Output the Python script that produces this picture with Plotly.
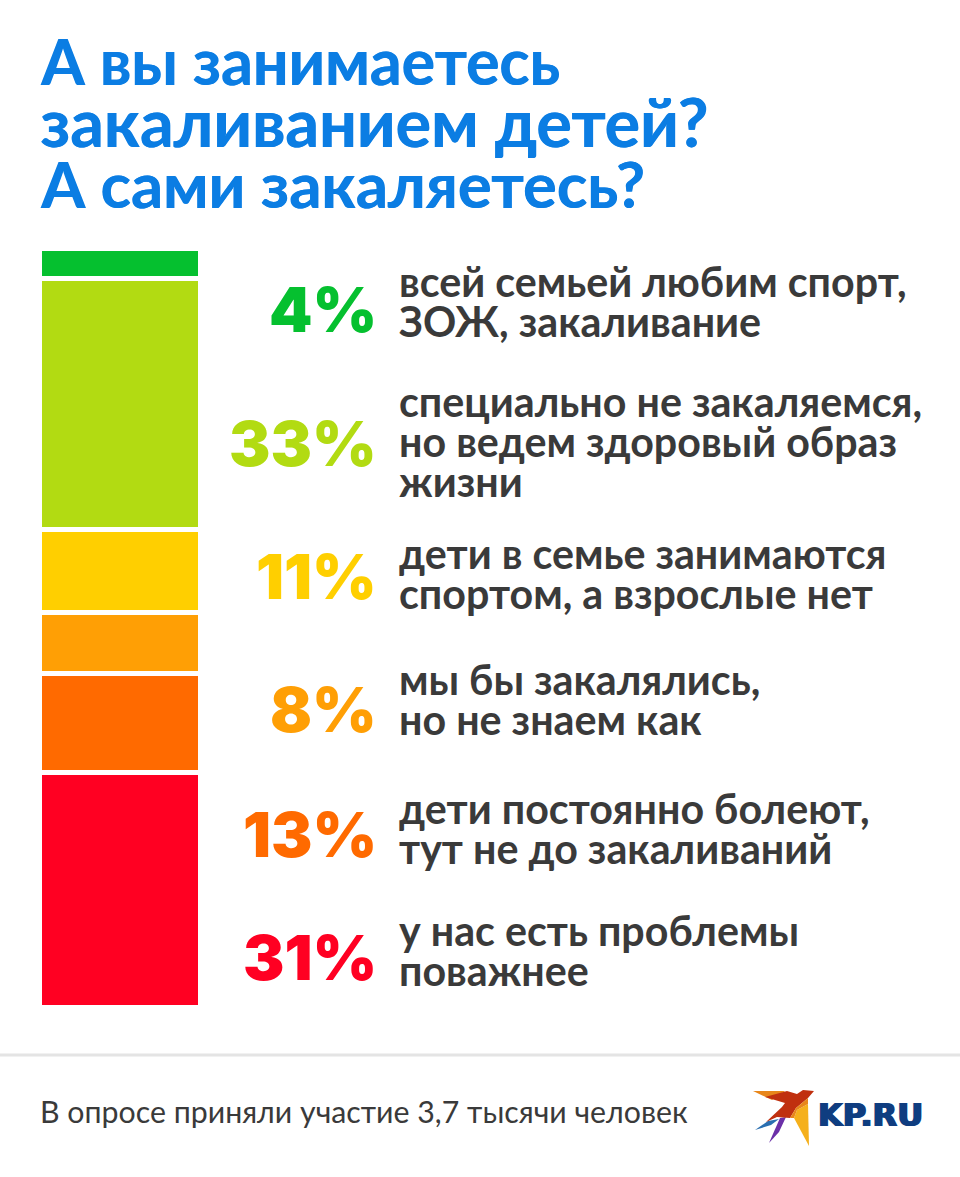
import plotly.graph_objs as go

W = 960
H = 1177

title_lines = ['А вы занимаетесь', 'закаливанием детей?', 'А сами закаляетесь?']
categories = ['всей семьей любим спорт, ЗОЖ, закаливание',
              'специально не закаляемся, но ведем здоровый образ жизни',
              'дети в семье занимаются спортом, а взрослые нет',
              'мы бы закалялись, но не знаем как',
              'дети постоянно болеют, тут не до закаливаний',
              'у нас есть проблемы поважнее']
values = [4, 33, 11, 8, 13, 31]
label_lines = [['всей семьей любим спорт,', 'ЗОЖ, закаливание'],
               ['специально не закаляемся,', 'но ведем здоровый образ', 'жизни'],
               ['дети в семье занимаются', 'спортом, а взрослые нет'],
               ['мы бы закалялись,', 'но не знаем как'],
               ['дети постоянно болеют,', 'тут не до закаливаний'],
               ['у нас есть проблемы', 'поважнее']]
footer = 'В опросе приняли участие 3,7 тысячи человек'
logo_text = 'KP.RU'

colors = ['#05c02f', '#b2db12', '#ffcf00', '#ff9f05', '#ff6a00', '#ff0022']

# lines of the title do not share a width in the original, so each gets its own size
title_sizes = [62.6, 66.4, 63.3]
title_y = [60, 120.5, 183.5]
# first text line centre of every block, px from the top
label_tops = [281, 401, 553, 679, 808, 930]
percent_y = [309, 444, 576, 709, 834, 957]


def px(x):
    return x / W


def py(y):
    return 1 - y / H


def text(x, y, s, size, color, family='Lato', weight=700, anchor='left', shadow='none'):
    return dict(x=px(x), y=py(y), xref='paper', yref='paper', text=s, showarrow=False,
                xanchor=anchor, yanchor='middle', borderpad=0,
                font=dict(family=family, size=size, color=color, weight=weight, shadow=shadow))


def poly(points, color):
    path = 'M ' + ' L '.join(f'{px(a):.5f} {py(b):.5f}' for a, b in points) + ' Z'
    return dict(type='path', path=path, xref='paper', yref='paper', fillcolor=color,
                line=dict(width=0), layer='above')


#bars, stacked from the top down
data = []
for i in range(len(values)):
    data.append(go.Bar(x=['опрос'], y=[values[i]], name=categories[i], marker_color=colors[i],
                       marker_line=dict(color='white', width=5), showlegend=False))

annotations = []

#title
for i, line in enumerate(title_lines):
    annotations.append(text(39, title_y[i], line, title_sizes[i], '#0b7de3',
                            shadow='0.7px 0 0 #0b7de3'))

#percents and labels
for i in range(len(values)):
    annotations.append(text(378, percent_y[i], f'{values[i]}%', 62, colors[i],
                            family='Inter', weight=900, anchor='right'))
    for j, line in enumerate(label_lines[i]):
        annotations.append(text(398, label_tops[i] + j * 40, line, 41.2, '#3a3a3a'))

#footer
annotations.append(text(39, 1111, footer, 30.3, '#3a3a3a', weight=400))
annotations.append(text(817, 1115, logo_text, 32, '#0f3d80', family='DejaVu Sans', weight=700,
                        shadow='1px 0 0 #0f3d80, -1px 0 0 #0f3d80'))

shapes = [
    dict(type='line', xref='paper', yref='paper', x0=0, x1=1, y0=py(1055), y1=py(1055),
         line=dict(color='#e4e4e4', width=3)),
    #logo bird
    poly([(753, 1091), (785, 1091), (772, 1100)], '#e8861a'),
    poly([(808, 1104), (809, 1146), (794, 1118), (797, 1110)], '#f5b01c'),
    poly([(769, 1143), (780, 1118), (786, 1117), (779, 1132)], '#6b30a8'),
    poly([(755, 1130), (768, 1121), (779, 1119), (771, 1125)], '#2a6fb0'),
    poly([(765, 1097), (787, 1091), (797, 1094), (803, 1090), (814, 1091), (808, 1098),
          (796, 1108), (790, 1118), (777, 1117), (766, 1122), (782, 1107), (785, 1103)], '#c0300f'),
    poly([(808, 1098), (808, 1104), (797, 1110), (794, 1118), (790, 1118), (796, 1108)], '#e8861a'),
]

layout = go.Layout(
    width=W, height=H, margin=dict(l=0, r=0, t=0, b=0, autoexpand=False),
    paper_bgcolor='white', plot_bgcolor='white', barmode='stack', bargap=0,
    xaxis=dict(domain=[px(40), px(201)], visible=False),
    yaxis=dict(domain=[py(1008), py(249)], range=[100, 0], visible=False),
    annotations=annotations, shapes=shapes,
)

fig = go.Figure(data=data, layout=layout)
fig.write_html('out.html', post_script="document.body.style.margin='0';",
               config=dict(displayModeBar=False))
